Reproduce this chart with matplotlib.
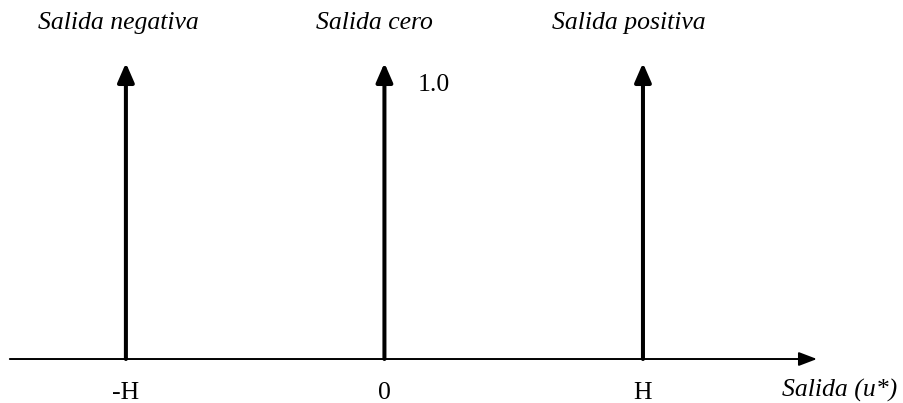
import matplotlib
matplotlib.use("Agg")
import matplotlib.pyplot as plt

# singleton positions (in units of H) and their weights
positions = [-1.0, 0.0, 1.0]
weights = [1.0, 1.0, 1.0]
tick_labels = ["-H", "0", "H"]
titles = ["Salida negativa", "Salida cero", "Salida positiva"]
title_offsets = [-0.031, -0.037, -0.054]

plt.rcParams["font.family"] = ["Liberation Serif", "DejaVu Serif"]
FS = 18.5

fig = plt.figure(figsize=(9.04, 4.03), dpi=100)
ax = fig.add_axes([0, 0, 1, 1])
ax.set_xlim(-1.487, 2.0097)
ax.set_ylim(-0.1486, 1.2128)
ax.axis("off")

# horizontal axis
ax.annotate("", xy=(1.673, 0), xytext=(-1.449, 0),
            arrowprops=dict(arrowstyle="-|>,head_length=1.1,head_width=0.42",
                            lw=1.4, color="black", shrinkA=0, shrinkB=0))

for x, w, lab, t, off in zip(positions, weights, tick_labels, titles, title_offsets):
    ax.annotate("", xy=(x, w), xytext=(x, 0),
                arrowprops=dict(arrowstyle="-|>,head_length=1.15,head_width=0.5",
                                lw=2.9, color="black", shrinkA=0, shrinkB=0))
    ax.text(x, -0.135, lab, ha="center", va="baseline", fontsize=FS)
    ax.text(x + off, 1.115, t, ha="center", va="baseline", fontsize=FS, style="italic")

ax.text(0.13, 0.905, f"{weights[1]:.1f}", ha="left", va="baseline", fontsize=FS)
ax.text(1.982, -0.128, "Salida (u*)", ha="right", va="baseline", fontsize=FS, style="italic")

fig.savefig("out.png", dpi=100)
